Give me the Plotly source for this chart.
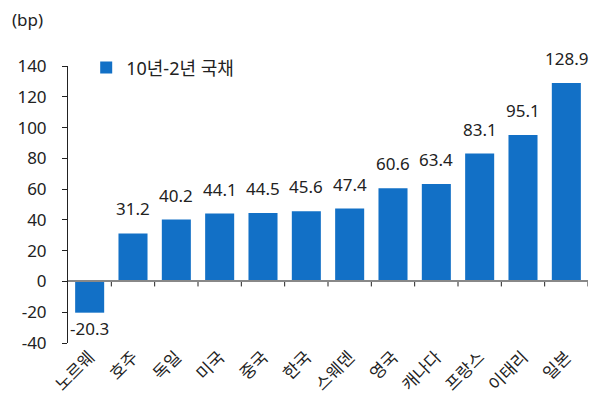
import plotly.graph_objects as go

categories = ["노르웨", "호주", "독일", "미국", "중국", "한국", "스웨덴", "영국", "캐나다", "프랑스", "이태리", "일본"]
values = [-20.3, 31.2, 40.2, 44.1, 44.5, 45.6, 47.4, 60.6, 63.4, 83.1, 95.1, 128.9]
series_name = "10년-2년 국채"
y_ticks = [-40, -20, 0, 20, 40, 60, 80, 100, 120, 140]
y_tick_text = ["-40", "-20", "0", "20", "40", "60", "80", "100", "120", "140"]
y_range = [-40, 140]
unit_label = "(bp)"

FONT = "Noto Sans, Noto Sans CJK KR"
BAR = "#1270C6"
TXT = "#222222"

n = len(categories)
idx = list(range(n))
boundaries = [i + 0.5 for i in range(n)]
x_range = [-0.5, n - 0.5]

# plot height in px and tick length conversion to data units
plot_h = 394 - 58 - 59
tick_px = 5
tick_units = tick_px * (y_range[1] - y_range[0]) / plot_h

fig = go.Figure()
fig.add_trace(go.Bar(
    x=idx, y=values, name=series_name,
    marker=dict(color=BAR, line=dict(width=0)),
    xaxis="x", yaxis="y",
    customdata=categories, hovertemplate="%{customdata}: %{y}<extra></extra>",
))
# invisible helper trace for the bottom label axis
fig.add_trace(go.Bar(
    x=idx, y=[0] * n, xaxis="x2", yaxis="y",
    showlegend=False, hoverinfo="skip", marker=dict(opacity=0),
))
# category boundary tick marks on the zero axis
fig.add_trace(go.Scatter(
    x=boundaries, y=[0] * n, mode="markers", xaxis="x", yaxis="y",
    marker=dict(size=1, opacity=0), showlegend=False, hoverinfo="skip",
    error_y=dict(type="data", symmetric=False, array=[0] * n,
                 arrayminus=[tick_units] * n, width=0, thickness=1, color="#222222"),
    cliponaxis=False,
))

annotations = []
for i, v in zip(idx, values):
    if v >= 0:
        annotations.append(dict(x=i, y=v, xref="x", yref="y", text=f"{v:.1f}",
                                showarrow=False, yanchor="bottom", yshift=11,
                                font=dict(size=17, color=TXT, family=FONT)))
    else:
        annotations.append(dict(x=i, y=v, xref="x", yref="y", text=f"{v:.1f}",
                                showarrow=False, yanchor="top", yshift=-2,
                                font=dict(size=17, color=TXT, family=FONT)))
annotations.append(dict(x=0, y=1, xref="paper", yref="paper", xshift=-58, yshift=60,
                        text=unit_label, showarrow=False, xanchor="left", yanchor="top",
                        font=dict(size=17, color=TXT, family=FONT)))

zero_pos = (0 - y_range[0]) / (y_range[1] - y_range[0])

fig.update_layout(
    width=590, height=394,
    margin=dict(l=60, r=10, t=58, b=59, autoexpand=False),
    paper_bgcolor="white", plot_bgcolor="white",
    font=dict(family=FONT, size=17, color=TXT),
    bargap=0.33,
    showlegend=True,
    legend=dict(x=0.035, y=1.06, xanchor="left", yanchor="top",
                bgcolor="rgba(0,0,0,0)", font=dict(size=18, family=FONT, color=TXT),
                itemwidth=30),
    xaxis=dict(
        range=x_range, anchor="free", position=zero_pos,
        showline=True, linecolor="#888888", linewidth=2,
        ticks="", showticklabels=False,
        showgrid=False, zeroline=False, automargin=False,
    ),
    xaxis2=dict(
        range=x_range, overlaying="x", matches="x", anchor="y", side="bottom",
        tickmode="array", tickvals=idx, ticktext=categories,
        showline=False, ticks="", showgrid=False, zeroline=False, automargin=False,
        tickangle=-45, tickfont=dict(size=17, family=FONT, color=TXT),
    ),
    yaxis=dict(
        range=y_range, tickvals=y_ticks, ticktext=y_tick_text,
        showgrid=False, zeroline=False, automargin=False,
        showline=True, linecolor="#222222", linewidth=1,
        ticks="outside", ticklen=5, tickcolor="#222222", ticklabelstandoff=12,
        tickfont=dict(size=17, family=FONT, color=TXT),
    ),
    annotations=annotations,
)

fig.write_html("out.html")
